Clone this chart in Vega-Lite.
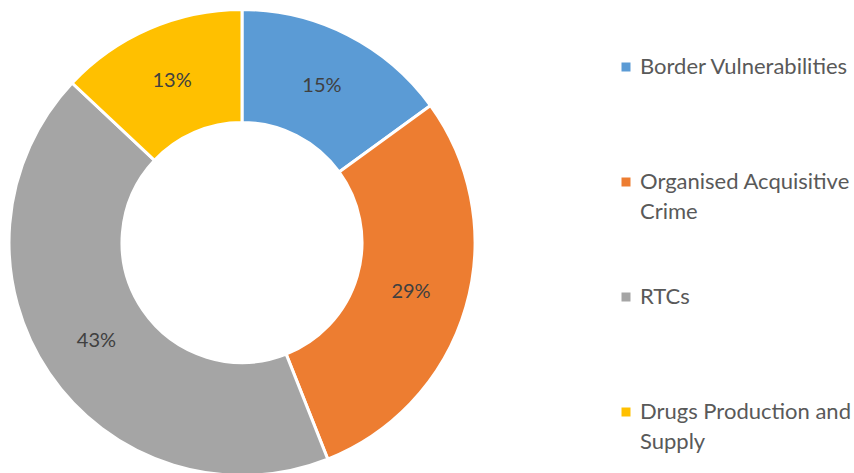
{
  "$schema": "https://vega.github.io/schema/vega-lite/v6.json",
  "width": 484,
  "height": 473,
  "padding": {"top": 3, "left": 0, "right": 0, "bottom": 0},
  "background": "white",
  "config": {"view": {"stroke": null}, "font": "Lato", "style": {"guide-label": {"lineHeight": 30}}},
  "data": {
    "values": [
      {"category": "Border Vulnerabilities", "share": 0.15, "ord": 1},
      {"category": "Organised Acquisitive Crime", "share": 0.29, "ord": 2},
      {"category": "RTCs", "share": 0.43, "ord": 3},
      {"category": "Drugs Production and Supply", "share": 0.13, "ord": 4}
    ]
  },
  "encoding": {
    "theta": {"field": "share", "type": "quantitative", "stack": true},
    "order": {"field": "ord", "type": "ordinal"}
  },
  "layer": [
    {
      "mark": {"type": "arc", "outerRadius": 233, "innerRadius": 120, "stroke": "white", "strokeWidth": 3},
      "encoding": {
        "color": {
          "field": "category",
          "type": "nominal",
          "scale": {
            "domain": ["Border Vulnerabilities", "Organised Acquisitive Crime", "RTCs", "Drugs Production and Supply"],
            "range": ["#5B9BD5", "#ED7D31", "#A5A5A5", "#FFC000"]
          },
          "legend": {
            "title": null,
            "orient": "none",
            "legendX": 615,
            "legendY": 50,
            "symbolType": "square",
            "symbolSize": 81,
            "symbolStrokeWidth": 0,
            "labelFont": "Lato",
            "labelFontSize": 22,
            "labelColor": "#595959",
            "labelOffset": 3,
            "labelLimit": 300,
            "gridAlign": "all",
            "rowPadding": 63,
            "labelExpr": "datum.label == 'Organised Acquisitive Crime' ? ['Organised Acquisitive', 'Crime'] : datum.label == 'Drugs Production and Supply' ? ['Drugs Production and', 'Supply'] : datum.label",
            "encode": {"labels": {"enter": {"lineHeight": {"value": 30}}, "update": {"lineHeight": {"value": 30}}}}
          }
        }
      }
    },
    {
      "mark": {"type": "text", "radius": 176, "fontSize": 20, "font": "Lato", "color": "#404040"},
      "encoding": {
        "text": {"field": "share", "type": "quantitative", "format": ".0%"},
        "detail": {"field": "category"}
      }
    }
  ]
}
